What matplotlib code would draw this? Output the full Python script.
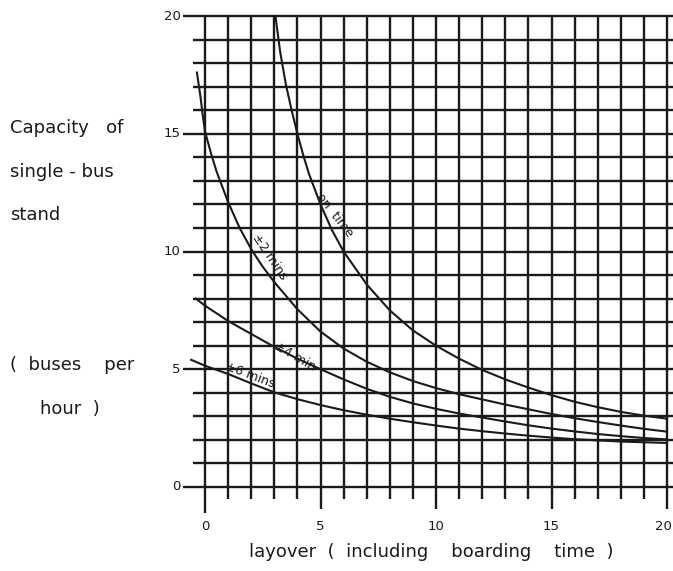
import matplotlib
matplotlib.use("Agg")
import matplotlib.pyplot as plt

# ---- data ----
ontime_x = [3.05, 3.25, 3.5, 3.75, 4, 4.25, 4.5, 5, 5.5, 6, 7, 8, 9, 10, 11, 12, 13, 14, 15, 16, 17, 18, 19, 20]
ontime_y = [20.0, 18.5, 17.1, 16.0, 15.0, 14.1, 13.3, 12.0, 10.9, 10.0, 8.6, 7.5, 6.65, 6.0, 5.45, 4.97, 4.57, 4.22, 3.9, 3.62, 3.39, 3.19, 3.03, 2.9]

pm2_x = [-0.35, -0.2, -0.1, 0, 0.25, 0.5, 1, 1.5, 2, 2.5, 3, 4, 5, 6, 7, 8, 9, 10, 11, 12, 13, 14, 15, 16, 17, 18, 19, 20]
pm2_y = [17.6, 16.6, 15.8, 15.1, 14.2, 13.4, 12.1, 11.0, 10.1, 9.35, 8.7, 7.55, 6.6, 5.88, 5.32, 4.87, 4.5, 4.2, 3.94, 3.72, 3.5, 3.3, 3.1, 2.92, 2.76, 2.61, 2.47, 2.35]

pm4_x = [-0.4, 0, 1, 2, 3, 4, 5, 6, 7, 8, 9, 10, 11, 12, 13, 14, 15, 16, 17, 18, 19, 20]
pm4_y = [8.0, 7.7, 7.05, 6.5, 5.95, 5.45, 5.0, 4.57, 4.17, 3.83, 3.55, 3.32, 3.12, 2.95, 2.78, 2.62, 2.48, 2.36, 2.25, 2.16, 2.08, 2.02]

pm6_x = [-0.6, 0, 1, 2, 3, 4, 5, 6, 7, 8, 9, 10, 11, 12, 13, 14, 15, 16, 17, 18, 19, 20]
pm6_y = [5.4, 5.15, 4.8, 4.4, 4.02, 3.73, 3.48, 3.26, 3.07, 2.9, 2.75, 2.61, 2.48, 2.37, 2.27, 2.18, 2.1, 2.03, 1.98, 1.93, 1.9, 1.87]

x_tick_labels = [0, 5, 10, 15, 20]
y_tick_labels = [0, 5, 10, 15, 20]

ylabel_lines = ["Capacity   of", "single - bus", "stand", "(  buses    per", "hour  )"]
xlabel = "layover  (  including    boarding    time  )"

# ---- figure ----
W, H = 673, 571
fig = plt.figure(figsize=(W / 100, H / 100), dpi=100)
ax = fig.add_axes([0, 0, 1, 1])
# pixel mapping: x=0 -> 205px, 23.1 px/unit ; y=0 -> 487px, 23.55 px/unit
sx, sy = 23.1, 23.55
ax.set_xlim(-205 / sx, (W - 205) / sx)
ax.set_ylim(-(H - 487) / sy, 487 / sy)
ax.axis("off")

ink = "#1a1a1a"
glw = 1.7

# grid: horizontal lines
for yv in range(0, 21):
    x0 = -0.95 if yv % 5 == 0 else -0.5
    ax.plot([x0, 20.3], [yv, yv], color=ink, lw=glw, solid_capstyle="butt")
# grid: vertical lines
for xv in range(0, 21):
    if xv == 0:
        y0 = -1.1
    elif xv % 5 == 0:
        y0 = -0.95
    else:
        y0 = -0.5
    ax.plot([xv, xv], [y0, 20], color=ink, lw=glw, solid_capstyle="butt")

# curves
for xs, ys in [(ontime_x, ontime_y), (pm2_x, pm2_y), (pm4_x, pm4_y), (pm6_x, pm6_y)]:
    ax.plot(xs, ys, color=ink, lw=1.5, solid_joinstyle="round")

# tick labels
for v in y_tick_labels:
    ax.text(-1.05, v, str(v), ha="right", va="center", fontsize=9.5, color=ink)
for v in x_tick_labels:
    if v == x_tick_labels[-1]:
        ax.text(v + 0.2, -1.4, str(v), ha="right", va="top", fontsize=9.5, color=ink)
    else:
        ax.text(v, -1.4, str(v), ha="center", va="top", fontsize=9.5, color=ink)

# curve labels
def px2d(px, py):
    return (px - 205) / sx, (487 - py) / sy

lab_kw = dict(fontsize=9, color=ink, ha="center", va="center", rotation_mode="anchor")
ax.text(*px2d(335, 215), "on  time", rotation=-52, **lab_kw)
ax.text(*px2d(270, 257), "±2 mins", rotation=-56, **lab_kw)
ax.text(*px2d(295, 356), "±4 min", rotation=-30, **lab_kw)
ax.text(*px2d(250, 375), "±6 mins", rotation=-21, **lab_kw)

# y label (left block)
line_y = [128, 172, 215, 365, 409]
line_x = [10, 10, 10, 10, 40]
for txt, lx, ly in zip(ylabel_lines, line_x, line_y):
    fig.text(lx / W, 1 - ly / H, txt, ha="left", va="center", fontsize=13, color=ink)

# x label
fig.text(431 / W, 1 - 552 / H, xlabel, ha="center", va="center", fontsize=13, color=ink)

fig.savefig("out.png", dpi=100, facecolor="white")
